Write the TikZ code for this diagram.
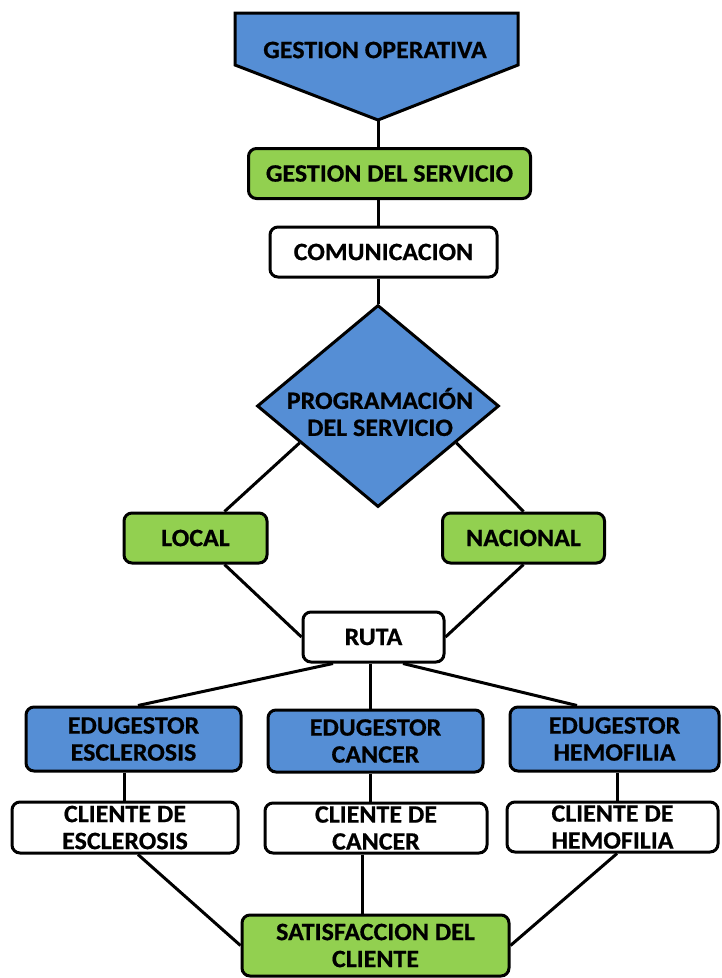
\documentclass[tikz,border=0pt]{standalone}
\usepackage{fontspec}
\setmainfont{Carlito}[FakeStretch=1.04, BoldFeatures={FakeBold=0.6}]
\usetikzlibrary{shapes.geometric,backgrounds,calc}
\definecolor{boxblue}{RGB}{85,142,213}
\definecolor{boxgreen}{RGB}{146,208,80}
\tikzset{
  lbl/.style={font=\bfseries\fontsize{25}{27}\selectfont, align=center},
  card/.style={draw=black, line width=3pt, rounded corners=8pt, inner sep=0pt, lbl},
  bluebox/.style={card, fill=boxblue},
  greenbox/.style={card, fill=boxgreen},
  whitebox/.style={card, fill=white},
  link/.style={draw=black, line width=3pt},
}
\begin{document}
\begin{tikzpicture}[x=1pt,y=-1pt]
\useasboundingbox (0,0) rectangle (721,978);

% top pentagon arrow
\draw[fill=boxblue, line width=3pt, line join=miter]
  (235,13) -- (518,13) -- (518,65) -- (378,120) -- (235,65) -- cycle;
\node[lbl] (go) at (375,50) {GESTION OPERATIVA};
\coordinate (goTip) at (378,120);

\node[greenbox, minimum width=282pt, minimum height=50pt] (gs) at (389.5,173.5) {GESTION DEL SERVICIO};
\node[whitebox, minimum width=227pt, minimum height=50pt] (com) at (383.5,252) {COMUNICACION};

\node[diamond, draw=black, line width=3pt, fill=boxblue, inner sep=0pt,
      minimum width=242pt, minimum height=202pt] (dia) at (378,406) {};
\node[lbl] (prog) at (380,412) {PROGRAMACIÓN\\DEL SERVICIO};

\node[greenbox, minimum width=143pt, minimum height=50pt] (local) at (195.5,538) {LOCAL};
\node[greenbox, minimum width=162pt, minimum height=50pt] (nac) at (523.5,538) {NACIONAL};
\node[whitebox, minimum width=141pt, minimum height=50pt] (ruta) at (373.5,637) {RUTA};

\node[bluebox, minimum width=215pt, minimum height=64pt] (eduE) at (133.5,739) {EDUGESTOR\\ESCLEROSIS};
\node[bluebox, minimum width=215pt, minimum height=62pt] (eduC) at (375.5,741) {EDUGESTOR\\CANCER};
\node[bluebox, minimum width=209pt, minimum height=64pt] (eduH) at (614.5,739) {EDUGESTOR\\HEMOFILIA};

\node[whitebox, minimum width=226pt, minimum height=51pt] (cliE) at (125,827.5) {CLIENTE DE\\ESCLEROSIS};
\node[whitebox, minimum width=222pt, minimum height=50pt] (cliC) at (376,828) {CLIENTE DE\\CANCER};
\node[whitebox, minimum width=211pt, minimum height=50pt] (cliH) at (612.5,827) {CLIENTE DE\\HEMOFILIA};

\node[greenbox, minimum width=267pt, minimum height=61pt] (sat) at (375.5,945.5) {SATISFACCION DEL\\CLIENTE};

\begin{scope}[on background layer]
  \draw[link] (goTip) -- (goTip |- gs.north);
  \draw[link] (goTip |- gs.south) -- (goTip |- com.north);
  \draw[link] (goTip |- com.south) -- (dia.north);
  \draw[link] ($(dia.west)!0.36!(dia.south)$) -- ([xshift=29pt]local.north);
  \draw[link] ($(dia.east)!0.36!(dia.south)$) -- (nac.north);
  \draw[link] ([xshift=29pt]local.south) -- (ruta.west);
  \draw[link] (nac.south) -- (ruta.east);
  \draw[link] ([xshift=-40.5pt]ruta.south) -- ([xshift=4.5pt]eduE.north);
  \draw[link] ([xshift=-3.5pt]ruta.south) -- ([xshift=-3.5pt]ruta.south |- eduC.north);
  \draw[link] ([xshift=29.5pt]ruta.south) -- ([xshift=-37.5pt]eduH.north);
  \draw[link] ([xshift=-9.5pt]eduE.south) -- ([xshift=-9.5pt]eduE.south |- cliE.north);
  \draw[link] ([xshift=-5.5pt]eduC.south) -- ([xshift=-5.5pt]eduC.south |- cliC.north);
  \draw[link] ([xshift=2.5pt]eduH.south) -- ([xshift=2.5pt]eduH.south |- cliH.north);
  \draw[link] ([xshift=13pt]cliE.south) -- (sat.west);
  \draw[link] ([xshift=-14pt]cliC.south) -- ([xshift=-14pt]cliC.south |- sat.north);
  \draw[link] ([xshift=4.5pt]cliH.south) -- (sat.east);
\end{scope}
\end{tikzpicture}
\end{document}
